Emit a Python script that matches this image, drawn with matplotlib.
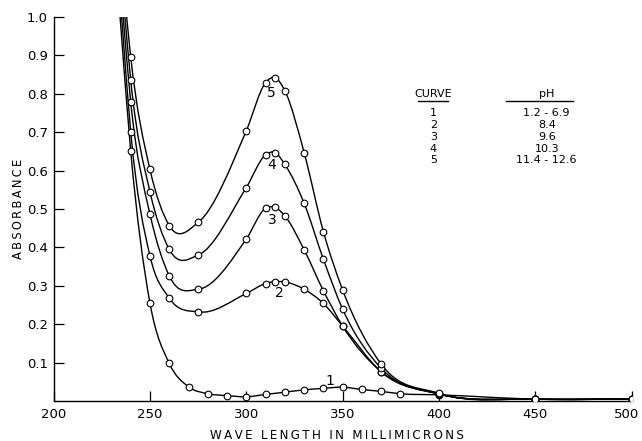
import numpy as np
import matplotlib
matplotlib.use("Agg")
import matplotlib.pyplot as plt
from matplotlib.path import Path
from matplotlib.patches import PathPatch
import matplotlib.transforms as mtransforms

plt.rcParams['font.family'] = ['DejaVu Sans']

# ---- data ----
# x where each curve leaves the top of the frame (absorbance 1.0)
top_x = [234.5, 235.3, 236.1, 237.0, 237.9]
top_y = 1.0

c1_wl = [240, 250, 260, 270, 280, 290, 300, 310, 320, 330, 340, 350, 360, 370, 380, 400, 450, 500]
c1_ab = [0.651, 0.255, 0.098, 0.037, 0.019, 0.014, 0.011, 0.017, 0.023, 0.029, 0.033, 0.036, 0.030, 0.025, 0.019, 0.016, 0.005, 0.006]

c2_wl = [240, 250, 260, 275, 300, 310, 315, 320, 330, 340, 350, 370, 400, 450, 500]
c2_ab = [0.701, 0.378, 0.268, 0.232, 0.280, 0.306, 0.311, 0.310, 0.291, 0.254, 0.195, 0.076, 0.018, 0.005, 0.005]

c3_wl = [240, 250, 260, 275, 300, 310, 315, 320, 330, 340, 350, 370, 400, 450, 500]
c3_ab = [0.779, 0.487, 0.326, 0.291, 0.422, 0.502, 0.504, 0.482, 0.394, 0.287, 0.195, 0.076, 0.018, 0.005, 0.005]

c4_wl = [240, 250, 260, 275, 300, 310, 315, 320, 330, 340, 350, 370, 400, 450, 500]
c4_ab = [0.836, 0.545, 0.395, 0.380, 0.556, 0.641, 0.647, 0.616, 0.515, 0.369, 0.239, 0.085, 0.019, 0.005, 0.005]

c5_wl = [240, 250, 260, 275, 300, 310, 315, 320, 330, 340, 350, 370, 400, 450, 500]
c5_ab = [0.897, 0.603, 0.457, 0.465, 0.704, 0.829, 0.842, 0.808, 0.647, 0.441, 0.289, 0.096, 0.020, 0.005, 0.005]

curve_ids = ["1", "2", "3", "4", "5"]
ph_values = ["1.2 - 6.9", "8.4", "9.6", "10.3", "11.4 - 12.6"]
# curve number label positions (wavelength, absorbance)
label_wl = [343.5, 317.0, 313.3, 313.3, 312.8]
label_ab = [0.052, 0.281, 0.471, 0.615, 0.802]

x_ticks = [200, 250, 300, 350, 400, 450, 500]
y_ticks = [0.1, 0.2, 0.3, 0.4, 0.5, 0.6, 0.7, 0.8, 0.9, 1.0]

curves = [(c1_wl, c1_ab), (c2_wl, c2_ab), (c3_wl, c3_ab), (c4_wl, c4_ab), (c5_wl, c5_ab)]


def smooth_path(x, y):
    x = np.asarray(x, float)
    y = np.asarray(y, float)
    n = len(x)
    h = np.diff(x)
    d = np.diff(y) / h
    m = np.empty(n)
    m[0] = d[0]
    m[-1] = d[-1]
    # three-point derivative for non-uniform spacing
    m[1:-1] = (h[:-1] * d[1:] + h[1:] * d[:-1]) / (h[:-1] + h[1:])
    verts = [(x[0], y[0])]
    codes = [Path.MOVETO]
    for i in range(n - 1):
        hi = h[i]
        verts += [(x[i] + hi / 3, y[i] + m[i] * hi / 3),
                  (x[i + 1] - hi / 3, y[i + 1] - m[i + 1] * hi / 3),
                  (x[i + 1], y[i + 1])]
        codes += [Path.CURVE4] * 3
    return Path(verts, codes)


fig = plt.figure(figsize=(6.42, 4.41), dpi=100)
ax = fig.add_axes([0.0835, 0.0907, 0.9005, 0.8707])

for tx, (wl, ab) in zip(top_x, curves):
    xs = [tx] + list(wl)
    ys = [top_y] + list(ab)
    ax.add_patch(PathPatch(smooth_path(xs, ys), fill=False, ec='black', lw=1.0))
    ax.plot(wl, ab, linestyle='none', marker='o', ms=4.8, mfc='white', mec='black', mew=0.8, zorder=3)

for cid, lx, ly in zip(curve_ids, label_wl, label_ab):
    ax.text(lx, ly, cid, ha='center', va='center', fontsize=10, zorder=4)

ax.set_xlim(200, 500)
ax.set_ylim(0, 1.0)
ax.set_xticks(x_ticks)
ax.set_xticklabels([str(t) for t in x_ticks])
ax.set_yticks(y_ticks)
ax.set_yticklabels([f"{t:.1f}" for t in y_ticks])
ax.tick_params(axis='both', direction='in', length=7, width=0.9, labelsize=9.5, pad=4)
ax.tick_params(axis='x', pad=5)
for s in ['top', 'right']:
    ax.spines[s].set_visible(False)
for s in ['left', 'bottom']:
    ax.spines[s].set_linewidth(1.0)

# keep the last x tick label inside the figure
last = ax.get_xticklabels()[-1]
last.set_transform(last.get_transform() + mtransforms.ScaledTranslation(-5 / 100, 0, fig.dpi_scale_trans))

ax.set_xlabel("\u2009".join("WAVE LENGTH IN MILLIMICRONS"), fontsize=8.6)
ax.xaxis.set_label_coords(0.490, -0.072)
ax.set_ylabel("\u2009".join("ABSORBANCE"), fontsize=8.3)
ax.yaxis.set_label_coords(-0.050, 0.50)

# legend table
ax.text(397.0, 0.799, "CURVE", ha='center', va='center', fontsize=8)
ax.text(455.9, 0.799, "pH", ha='center', va='center', fontsize=8)
ax.plot([389.2, 404.7], [0.781, 0.781], color='black', lw=1.0)
ax.plot([434.8, 469.6], [0.781, 0.781], color='black', lw=1.0)
row_y = [0.749, 0.719, 0.688, 0.657, 0.628]
for cid, ph, ry in zip(curve_ids, ph_values, row_y):
    ax.text(397.0, ry, cid, ha='center', va='center', fontsize=8)
    ax.text(455.9, ry, ph, ha='center', va='center', fontsize=8)

fig.savefig("out.png", dpi=100)
